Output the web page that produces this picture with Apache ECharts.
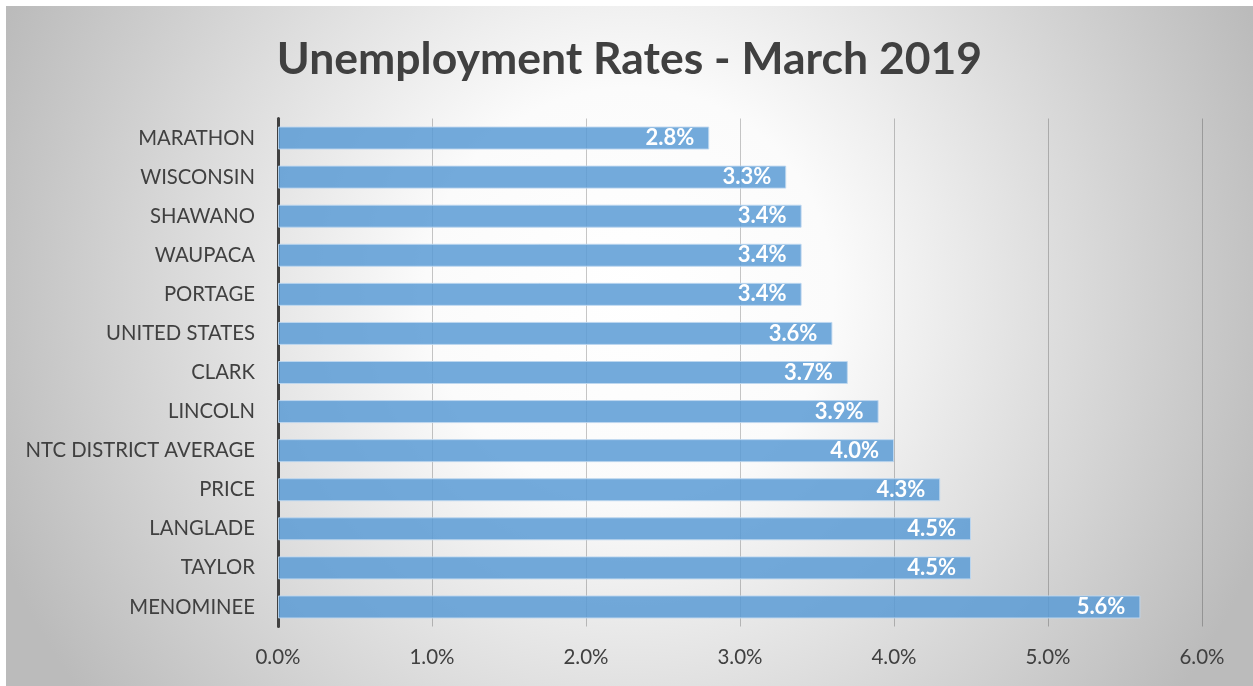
<!DOCTYPE html>
<html>
<head>
<meta charset="utf-8">
<script src="https://cdn.jsdelivr.net/npm/echarts@6/dist/echarts.min.js"></script>
<style>
html,body{margin:0;padding:0;background:#fff;width:1253px;height:686px;overflow:hidden;}
#c{position:absolute;left:6px;top:6px;width:1247px;height:680px;}
</style>
</head>
<body>
<div id="c"></div>
<script>
const categories = ['MARATHON','WISCONSIN','SHAWANO','WAUPACA','PORTAGE','UNITED STATES','CLARK','LINCOLN','NTC DISTRICT AVERAGE','PRICE','LANGLADE','TAYLOR','MENOMINEE'];
const rates = [2.8, 3.3, 3.4, 3.4, 3.4, 3.6, 3.7, 3.9, 4.0, 4.3, 4.5, 4.5, 5.6];
const titleText = 'Unemployment Rates - March 2019';

const chart = echarts.init(document.getElementById('c'));
chart.setOption({
  backgroundColor: {
    type: 'radial', x: 0.5, y: 0.42, r: 1.0,
    colorStops: [
      {offset: 0, color: '#ffffff'},
      {offset: 0.3, color: '#fbfbfb'},
      {offset: 1, color: '#bbbbbb'}
    ]
  },
  title: {
    text: titleText,
    left: 'center',
    top: 26,
    textStyle: {fontFamily: 'Lato', fontWeight: 'bold', fontSize: 44.5, color: '#404040'}
  },
  grid: {left: 272, right: 51, top: 112.5, bottom: 59.5, containLabel: false},
  xAxis: {
    type: 'value', min: 0, max: 6, interval: 1,
    axisLine: {show: false}, axisTick: {show: false},
    splitLine: {show: true, lineStyle: {color: 'rgba(0,0,0,0.22)', width: 1}},
    axisLabel: {
      margin: 20, fontFamily: 'Lato', fontSize: 20.5, color: '#404040',
      formatter: v => v.toFixed(1) + '%'
    }
  },
  yAxis: {
    type: 'category', data: categories, inverse: true,
    axisLine: {show: true, lineStyle: {color: '#404040', width: 3}},
    axisTick: {show: false},
    axisLabel: {margin: 23, fontFamily: 'Lato', fontSize: 20.3, color: '#404040'}
  },
  series: [{
    type: 'bar',
    data: rates,
    barWidth: 23,
    itemStyle: {color: 'rgba(91,155,213,0.85)', borderColor: 'rgba(190,215,240,0.9)', borderWidth: 1},
    label: {
      show: true, position: 'insideRight', distance: 15,
      fontFamily: 'Lato', fontWeight: 'bold', fontSize: 22, color: '#ffffff',
      formatter: p => p.value.toFixed(1) + '%'
    },
    silent: true,
    animation: false
  }],
  animation: false
});
</script>
</body>
</html>
